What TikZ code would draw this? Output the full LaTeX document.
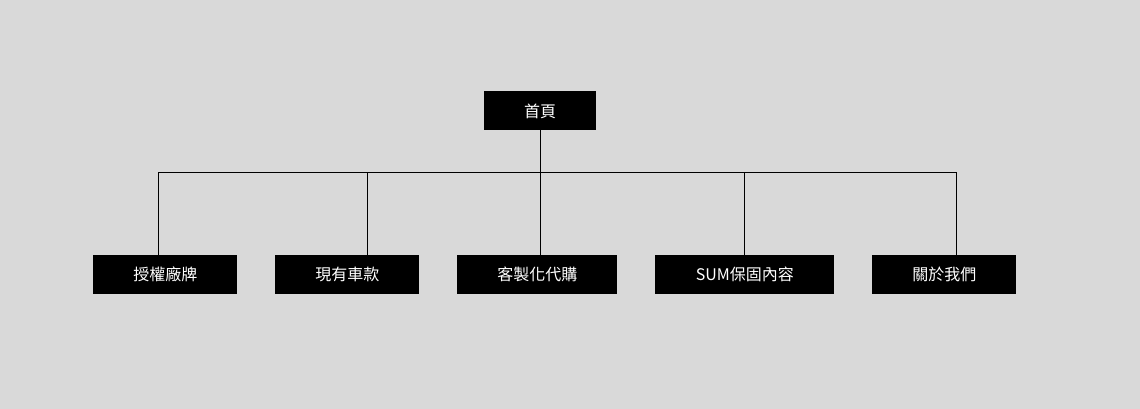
\documentclass[tikz,border=0pt]{standalone}
\usepackage{fontspec}
\setmainfont{Noto Sans CJK TC}
\usetikzlibrary{positioning}

\definecolor{bggray}{HTML}{D9D9D9}
\tikzset{
  page/.style={box/.style={fill=black, text=white, inner sep=0pt, outer sep=0pt,
      minimum height=29.25pt, font=\fontsize{12}{14}\selectfont}},
  link/.style={draw=black, line width=0.75pt},
}

\begin{document}
\begin{tikzpicture}[page]
      \fill[bggray] (0,0) rectangle (855pt,306.75pt);
      \useasboundingbox (0,0) rectangle (855pt,306.75pt);
      \node [box, minimum width=84pt] (home) at (405pt,223.5pt) {首頁};
      \node [box, minimum width=108pt, anchor=west] (brand) at (70pt,100.75pt) {授權廠牌};
      \node [box, minimum width=108pt, right=28.5pt of brand] (stock) {現有車款};
      \node [box, minimum width=120pt, right=28.5pt of stock] (custom) {客製化代購};
      \node [box, minimum width=134.25pt, right=28.5pt of custom] (warranty) {SUM保固內容};
      \node [box, minimum width=108pt, right=28.5pt of warranty] (about) {關於我們};
      % bus and drops
      \coordinate (d1) at (118.5pt,177.5pt);
      \coordinate (d2) at (275.5pt,177.5pt);
      \coordinate (d3) at (405pt,177.5pt);
      \coordinate (d4) at (558.2pt,177.5pt);
      \coordinate (d5) at (717pt,177.5pt);
      \draw [link] (home) -- (d3);
      \draw [link] (d1) -- (d5);
      \draw [link] (d1) -- (d1 |- brand.north);
      \draw [link] (d2) -- (d2 |- stock.north);
      \draw [link] (d3) -- (d3 |- custom.north);
      \draw [link] (d4) -- (d4 |- warranty.north);
      \draw [link] (d5) -- (d5 |- about.north);
\end{tikzpicture}
\end{document}
